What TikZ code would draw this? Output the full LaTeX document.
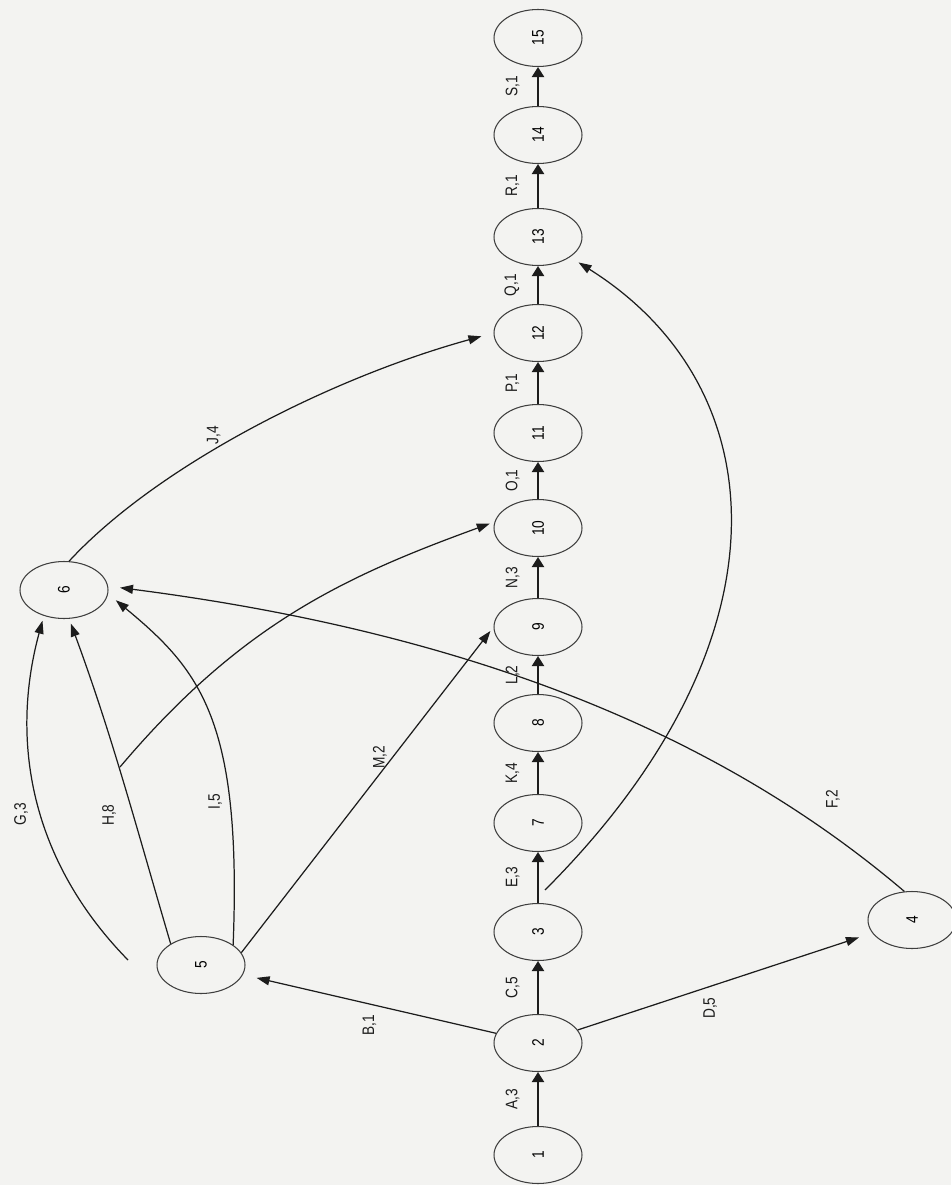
\documentclass[tikz,border=0pt]{standalone}
\usepackage{fontspec}
\setmainfont{Liberation Sans}[FakeStretch=0.82]
\usepackage{graphicx}
\usetikzlibrary{arrows.meta,positioning,shapes.geometric}
\definecolor{paper}{HTML}{F3F3F1}
\definecolor{ink}{HTML}{1C1C1C}
\newcommand{\vtext}[1]{\rotatebox{90}{#1}}

\begin{document}
\begin{tikzpicture}[x=0.02cm, y=-0.02cm, font=\fontsize{9.5}{11}\selectfont]
  \tikzset{
    event/.style={draw=ink!85, ellipse, line width=0.6pt, minimum width=1.76cm, minimum height=1.14cm, inner sep=0pt},
    mainarrow/.style={-{Triangle[length=2mm,width=2.4mm]}, ink, line width=1.2pt},
    sidearrow/.style={-{Triangle[length=2.6mm,width=1.8mm]}, ink, line width=0.7pt, shorten >=1mm},
    lbl/.style={inner sep=1pt, text=ink},
  }
  \fill[paper] (0,0) rectangle (951,1185);
  \useasboundingbox (0,0) rectangle (951,1185);

  % events on the main line
  \node[event] (e1)  at (538,1155) {\vtext{1}};
  \node[event] (e2)  at (538,1043) {\vtext{2}};
  \node[event] (e3)  at (538,932)  {\vtext{3}};
  \node[event] (e7)  at (538,823)  {\vtext{7}};
  \node[event] (e8)  at (538,723)  {\vtext{8}};
  \node[event] (e9)  at (538,627)  {\vtext{9}};
  \node[event] (e10) at (538,528)  {\vtext{10}};
  \node[event] (e11) at (538,433)  {\vtext{11}};
  \node[event] (e12) at (538,333)  {\vtext{12}};
  \node[event] (e13) at (538,237)  {\vtext{13}};
  \node[event] (e14) at (538,135)  {\vtext{14}};
  \node[event] (e15) at (538,38)   {\vtext{15}};
  % side events
  \node[event] (e5) at (201,965) {\vtext{5}};
  \node[event] (e6) at (64,590)  {\vtext{6}};
  \node[event] (e4) at (912,920) {\vtext{4}};

  \coordinate (g0) at (128,960);
  \coordinate (d0) at (120,767);
  \coordinate (a0) at (545,890);

  \draw[mainarrow] (e1)  -- node[lbl, left=9pt] {\vtext{A,3}} (e2);
  \draw[mainarrow] (e2)  -- node[lbl, left=9pt] {\vtext{C,5}} (e3);
  \draw[mainarrow] (e3)  -- node[lbl, left=9pt] {\vtext{E,3}} (e7);
  \draw[mainarrow] (e7)  -- node[lbl, left=9pt] {\vtext{K,4}} (e8);
  \draw[mainarrow] (e8)  -- node[lbl, left=9pt] {\vtext{L,2}} (e9);
  \draw[mainarrow] (e9)  -- node[lbl, left=9pt] {\vtext{N,3}} (e10);
  \draw[mainarrow] (e10) -- node[lbl, left=9pt] {\vtext{O,1}} (e11);
  \draw[mainarrow] (e11) -- node[lbl, left=9pt] {\vtext{P,1}} (e12);
  \draw[mainarrow] (e12) -- node[lbl, left=9pt] {\vtext{Q,1}} (e13);
  \draw[mainarrow] (e13) -- node[lbl, left=9pt] {\vtext{R,1}} (e14);
  \draw[mainarrow] (e14) -- node[lbl, left=9pt] {\vtext{S,1}} (e15);

  \draw[sidearrow, shorten >=2.8mm] (e2) -- node[lbl, below=5pt, pos=0.5] {\vtext{B,1}} (e5);
  \draw[sidearrow, shorten >=2.8mm] (e2) -- node[lbl, below=5pt, pos=0.45] {\vtext{D,5}} (e4);

  \draw[sidearrow] (g0) .. controls (30,860) and (10,740) .. (e6.232)
    node[lbl, pos=0.45, left=6pt] {\vtext{G,3}};
  \draw[sidearrow] (e5.145) .. controls (136,826) and (112,735) .. (e6.280)
    node[lbl, pos=0.39, left=8.5pt] {\vtext{H,8}};
  \draw[sidearrow, shorten >=2mm] (e5.32) .. controls (242,720) and (200,670) .. (e6.-5)
    node[lbl, pos=0.26, left=3pt] {\vtext{I,5}};
  \draw[sidearrow, shorten >=2.4mm] (e4.105) .. controls (730,743) and (488,635) .. (e6.5)
    node[lbl, pos=0.13, above=14pt] {\vtext{F,2}};
  \draw[sidearrow, shorten >=2.5mm] (e6.80) .. controls (157,466) and (330,378) .. (e12.west)
    node[lbl, pos=0.41, above=2pt] {\vtext{J,4}};
  \draw[sidearrow] (e5.17) -- node[lbl, pos=0.6, left=2pt] {\vtext{M,2}} (e9.west);
  \draw[sidearrow] (d0) .. controls (240,625) and (343,577) .. (e10.172);
  \draw[sidearrow, shorten >=2mm] (a0) .. controls (795,640) and (777,387) .. (e13);
\end{tikzpicture}
\end{document}
